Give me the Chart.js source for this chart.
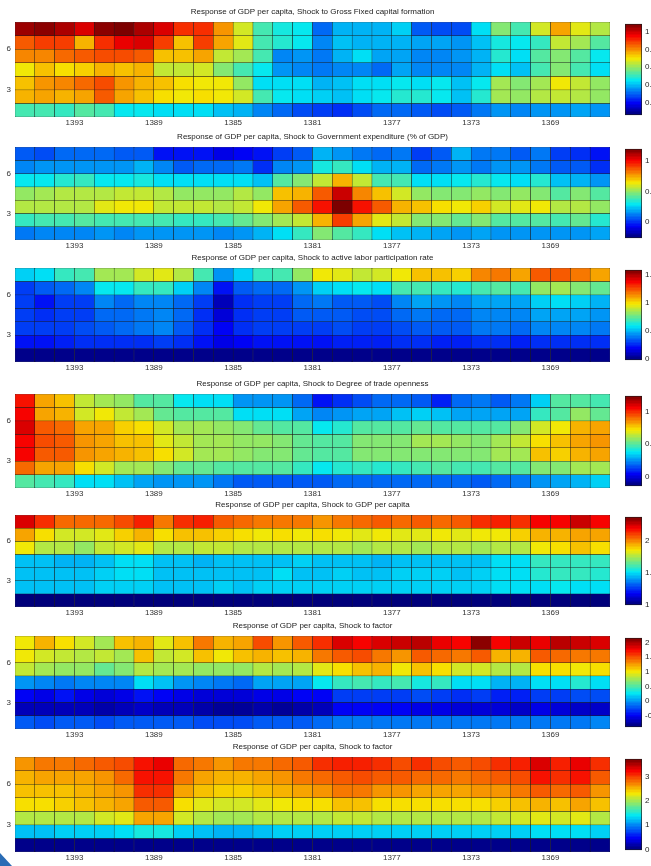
<!DOCTYPE html>
<html>
<head>
<meta charset="utf-8">
<title>Response of GDP per capita</title>
<script src="https://cdn.jsdelivr.net/npm/chart.js@4.4.1/dist/chart.umd.min.js"></script>
<style>
    html, body { margin: 0; padding: 0; background: #fff; }
    #figura { position: relative; width: 651px; height: 866px; overflow: hidden; }
    #figura canvas { position: absolute; }
    .canto { position: absolute; left: 0; top: 853px; width: 0; height: 0;
             border-left: 12px solid #2a6cb5; border-top: 13px solid transparent; }
</style>
</head>
<body>
<div id="figura"><div class="canto"></div></div>
<script>
// cells: one column per year (left edge of the cell), rows = horizon 7 (top) .. 1 (bottom)
const years = [1396, 1395, 1394, 1393, 1392, 1391, 1390, 1389, 1388, 1387, 1386, 1385, 1384, 1383, 1382,
               1381, 1380, 1379, 1378, 1377, 1376, 1375, 1374, 1373, 1372, 1371, 1370, 1369, 1368, 1367];
const horizons = [7, 6, 5, 4, 3, 2, 1];
const yearTicks = [1393, 1389, 1385, 1381, 1377, 1373, 1369];
const horizonTicks = [3, 6];

const titles = [
    'Response of GDP per capita, Shock to Gross Fixed capital formation',
    'Response of GDP per capita, Shock to Government expenditure (% of GDP)',
    'Response of GDP per capita, Shock to active labor participation rate',
    'Response of GDP per capita, Shock to Degree of trade openness',
    'Response of GDP per capita, Shock to GDP per capita',
    'Response of GDP per capita, Shock to factor',
    'Response of GDP per capita, Shock to factor'
];

// Shock to Gross Fixed capital formation
const gfcf = [
    [1.06, 1.07, 1.04, 0.99, 1.07, 1.09, 1.04, 0.99, 0.91, 0.91, 0.80, 0.66, 0.52, 0.47, 0.45, 0.31, 0.39, 0.39, 0.39, 0.42, 0.29, 0.27, 0.27, 0.43, 0.58, 0.52, 0.66, 0.78, 0.68, 0.64],
    [0.86, 0.90, 0.90, 0.76, 0.91, 0.97, 0.99, 0.90, 0.75, 0.90, 0.78, 0.68, 0.51, 0.49, 0.45, 0.33, 0.40, 0.38, 0.38, 0.38, 0.37, 0.37, 0.35, 0.41, 0.47, 0.45, 0.50, 0.65, 0.61, 0.54],
    [0.82, 0.82, 0.84, 0.86, 0.88, 0.88, 0.86, 0.74, 0.74, 0.78, 0.65, 0.61, 0.51, 0.34, 0.36, 0.32, 0.39, 0.43, 0.37, 0.37, 0.33, 0.34, 0.36, 0.39, 0.49, 0.44, 0.54, 0.58, 0.54, 0.46],
    [0.70, 0.74, 0.72, 0.73, 0.77, 0.75, 0.76, 0.65, 0.65, 0.67, 0.59, 0.51, 0.45, 0.36, 0.34, 0.32, 0.34, 0.33, 0.31, 0.37, 0.34, 0.33, 0.33, 0.39, 0.44, 0.40, 0.51, 0.58, 0.51, 0.43],
    [0.74, 0.79, 0.81, 0.85, 0.88, 0.79, 0.76, 0.74, 0.71, 0.70, 0.69, 0.60, 0.43, 0.44, 0.43, 0.39, 0.40, 0.43, 0.44, 0.45, 0.44, 0.45, 0.41, 0.46, 0.62, 0.58, 0.62, 0.70, 0.65, 0.60],
    [0.76, 0.78, 0.76, 0.78, 0.86, 0.78, 0.75, 0.71, 0.70, 0.71, 0.70, 0.67, 0.52, 0.45, 0.43, 0.42, 0.41, 0.44, 0.45, 0.49, 0.49, 0.46, 0.41, 0.49, 0.61, 0.60, 0.64, 0.65, 0.64, 0.60],
    [0.51, 0.51, 0.50, 0.53, 0.51, 0.46, 0.45, 0.44, 0.44, 0.44, 0.41, 0.39, 0.33, 0.30, 0.28, 0.26, 0.24, 0.27, 0.30, 0.30, 0.29, 0.27, 0.29, 0.32, 0.36, 0.34, 0.36, 0.36, 0.37, 0.36]
];

// Shock to Government expenditure (% of GDP)
const govExp = [
    [0.05, 0.04, 0.07, 0.08, 0.07, 0.05, 0.05, -0.06, -0.05, -0.06, -0.11, -0.08, -0.06, 0.02, 0.05, 0.19, 0.16, 0.11, 0.08, 0.10, 0.02, 0.05, 0.19, 0.11, 0.11, 0.05, 0.11, 0.01, -0.02, -0.05],
    [0.13, 0.14, 0.14, 0.16, 0.16, 0.16, 0.20, 0.13, 0.05, 0.08, 0.07, 0.10, -0.02, 0.13, 0.14, 0.32, 0.35, 0.27, 0.19, 0.19, 0.07, 0.10, 0.14, 0.11, 0.16, 0.14, 0.11, 0.05, 0.05, -0.02],
    [0.30, 0.30, 0.33, 0.36, 0.30, 0.30, 0.32, 0.27, 0.27, 0.27, 0.27, 0.26, 0.23, 0.41, 0.47, 0.58, 0.73, 0.58, 0.39, 0.38, 0.26, 0.26, 0.30, 0.33, 0.30, 0.26, 0.33, 0.22, 0.20, 0.14],
    [0.49, 0.52, 0.55, 0.54, 0.55, 0.57, 0.58, 0.54, 0.51, 0.51, 0.51, 0.54, 0.49, 0.70, 0.74, 0.88, 1.08, 0.80, 0.70, 0.60, 0.49, 0.48, 0.48, 0.49, 0.48, 0.49, 0.48, 0.41, 0.47, 0.41],
    [0.54, 0.54, 0.55, 0.54, 0.61, 0.63, 0.64, 0.57, 0.57, 0.57, 0.55, 0.57, 0.64, 0.76, 0.88, 1.00, 1.20, 1.00, 0.88, 0.74, 0.70, 0.66, 0.64, 0.69, 0.60, 0.61, 0.64, 0.55, 0.54, 0.51],
    [0.36, 0.38, 0.39, 0.41, 0.39, 0.39, 0.39, 0.38, 0.36, 0.36, 0.38, 0.44, 0.47, 0.52, 0.58, 0.74, 0.91, 0.76, 0.61, 0.57, 0.47, 0.47, 0.44, 0.47, 0.41, 0.41, 0.41, 0.39, 0.44, 0.33],
    [0.11, 0.13, 0.13, 0.13, 0.14, 0.13, 0.14, 0.16, 0.14, 0.14, 0.13, 0.16, 0.20, 0.26, 0.36, 0.47, 0.41, 0.36, 0.26, 0.23, 0.19, 0.17, 0.16, 0.17, 0.16, 0.14, 0.16, 0.16, 0.16, 0.17]
];

// Shock to active labor participation rate
const labor = [
    [0.54, 0.57, 0.67, 0.68, 0.84, 0.84, 0.93, 0.96, 0.86, 0.70, 0.44, 0.54, 0.67, 0.70, 0.81, 0.97, 0.94, 0.89, 0.93, 0.97, 1.06, 1.04, 1.02, 1.15, 1.17, 1.10, 1.23, 1.23, 1.17, 1.09],
    [0.29, 0.33, 0.36, 0.42, 0.59, 0.59, 0.67, 0.67, 0.54, 0.42, 0.21, 0.33, 0.36, 0.36, 0.44, 0.54, 0.57, 0.59, 0.57, 0.68, 0.68, 0.67, 0.63, 0.70, 0.72, 0.68, 0.81, 0.84, 0.78, 0.75],
    [0.28, 0.21, 0.28, 0.29, 0.41, 0.36, 0.42, 0.42, 0.36, 0.28, 0.07, 0.25, 0.29, 0.28, 0.36, 0.39, 0.33, 0.33, 0.31, 0.42, 0.46, 0.44, 0.42, 0.47, 0.47, 0.46, 0.54, 0.57, 0.54, 0.49],
    [0.28, 0.25, 0.28, 0.29, 0.36, 0.36, 0.39, 0.42, 0.36, 0.25, 0.12, 0.25, 0.29, 0.28, 0.33, 0.33, 0.33, 0.31, 0.31, 0.36, 0.39, 0.36, 0.36, 0.42, 0.42, 0.42, 0.46, 0.47, 0.47, 0.44],
    [0.29, 0.28, 0.29, 0.31, 0.34, 0.36, 0.38, 0.41, 0.33, 0.25, 0.18, 0.25, 0.28, 0.28, 0.28, 0.29, 0.31, 0.29, 0.29, 0.31, 0.34, 0.33, 0.33, 0.38, 0.38, 0.36, 0.41, 0.42, 0.41, 0.39],
    [0.21, 0.20, 0.23, 0.25, 0.25, 0.25, 0.26, 0.28, 0.25, 0.20, 0.15, 0.18, 0.21, 0.21, 0.21, 0.21, 0.23, 0.23, 0.23, 0.25, 0.25, 0.23, 0.23, 0.25, 0.25, 0.23, 0.25, 0.26, 0.26, 0.25],
    [0.00, 0.00, 0.00, 0.00, 0.00, 0.00, 0.00, 0.00, 0.00, 0.00, 0.00, 0.00, 0.00, 0.00, 0.00, 0.00, 0.00, 0.00, 0.00, 0.00, 0.00, 0.00, 0.00, 0.00, 0.00, 0.00, 0.00, 0.00, 0.00, 0.00]
];

// Shock to Degree of trade openness
const trade = [
    [1.05, 0.81, 0.77, 0.64, 0.61, 0.57, 0.49, 0.48, 0.39, 0.36, 0.36, 0.24, 0.25, 0.24, 0.18, 0.04, 0.09, 0.13, 0.17, 0.18, 0.16, 0.06, 0.18, 0.20, 0.16, 0.21, 0.34, 0.48, 0.48, 0.46],
    [1.06, 0.81, 0.80, 0.67, 0.71, 0.64, 0.59, 0.52, 0.49, 0.48, 0.48, 0.36, 0.36, 0.35, 0.28, 0.23, 0.25, 0.28, 0.27, 0.31, 0.34, 0.31, 0.27, 0.27, 0.28, 0.27, 0.45, 0.49, 0.57, 0.52],
    [1.11, 0.93, 0.92, 0.82, 0.82, 0.75, 0.73, 0.67, 0.61, 0.59, 0.57, 0.55, 0.52, 0.49, 0.49, 0.38, 0.43, 0.48, 0.48, 0.48, 0.52, 0.49, 0.49, 0.48, 0.48, 0.55, 0.66, 0.71, 0.80, 0.82],
    [1.07, 0.96, 0.93, 0.85, 0.82, 0.78, 0.77, 0.68, 0.64, 0.60, 0.60, 0.57, 0.57, 0.56, 0.52, 0.48, 0.49, 0.55, 0.56, 0.56, 0.60, 0.59, 0.57, 0.56, 0.61, 0.64, 0.73, 0.77, 0.82, 0.85],
    [1.07, 0.93, 0.93, 0.85, 0.81, 0.80, 0.78, 0.73, 0.66, 0.61, 0.60, 0.57, 0.56, 0.56, 0.52, 0.49, 0.49, 0.55, 0.55, 0.55, 0.56, 0.56, 0.56, 0.55, 0.59, 0.61, 0.77, 0.75, 0.80, 0.82],
    [0.91, 0.82, 0.81, 0.73, 0.66, 0.60, 0.59, 0.56, 0.52, 0.52, 0.49, 0.49, 0.48, 0.48, 0.45, 0.39, 0.42, 0.45, 0.42, 0.45, 0.46, 0.48, 0.46, 0.46, 0.48, 0.48, 0.55, 0.56, 0.61, 0.61],
    [0.50, 0.46, 0.45, 0.36, 0.36, 0.32, 0.28, 0.25, 0.25, 0.24, 0.21, 0.16, 0.16, 0.16, 0.16, 0.16, 0.17, 0.18, 0.18, 0.18, 0.18, 0.17, 0.18, 0.16, 0.17, 0.20, 0.24, 0.27, 0.29, 0.34]
];

// Shock to GDP per capita
const gdp = [
    [2.23, 2.12, 2.04, 2.04, 2.04, 2.09, 2.14, 2.03, 2.12, 2.14, 2.07, 2.04, 2.03, 2.01, 2.01, 1.98, 2.01, 2.04, 2.07, 2.04, 2.07, 2.04, 2.07, 2.12, 2.14, 2.12, 2.19, 2.19, 2.27, 2.19],
    [1.96, 1.86, 1.80, 1.80, 1.83, 1.89, 1.94, 1.87, 1.91, 1.91, 1.89, 1.87, 1.85, 1.87, 1.85, 1.87, 1.85, 1.83, 1.85, 1.83, 1.83, 1.85, 1.83, 1.85, 1.85, 1.89, 1.94, 1.94, 1.96, 1.96],
    [1.85, 1.75, 1.76, 1.72, 1.78, 1.79, 1.82, 1.76, 1.75, 1.78, 1.78, 1.76, 1.75, 1.75, 1.75, 1.76, 1.75, 1.74, 1.75, 1.75, 1.74, 1.75, 1.75, 1.74, 1.75, 1.76, 1.85, 1.87, 1.90, 1.87],
    [1.45, 1.45, 1.43, 1.42, 1.46, 1.50, 1.50, 1.46, 1.45, 1.43, 1.45, 1.45, 1.45, 1.46, 1.47, 1.46, 1.45, 1.45, 1.42, 1.45, 1.46, 1.46, 1.46, 1.46, 1.49, 1.49, 1.58, 1.58, 1.58, 1.58],
    [1.46, 1.45, 1.45, 1.45, 1.47, 1.49, 1.49, 1.46, 1.45, 1.45, 1.46, 1.45, 1.46, 1.49, 1.46, 1.46, 1.47, 1.46, 1.46, 1.47, 1.47, 1.47, 1.46, 1.47, 1.49, 1.49, 1.56, 1.58, 1.58, 1.56],
    [1.45, 1.46, 1.46, 1.46, 1.47, 1.47, 1.47, 1.46, 1.46, 1.46, 1.47, 1.46, 1.47, 1.47, 1.47, 1.47, 1.47, 1.47, 1.47, 1.47, 1.47, 1.47, 1.47, 1.47, 1.49, 1.49, 1.49, 1.51, 1.49, 1.49],
    [1.00, 1.00, 1.00, 1.00, 1.00, 1.00, 1.00, 1.00, 1.00, 1.00, 1.00, 1.00, 1.00, 1.00, 1.00, 1.00, 1.00, 1.00, 1.00, 1.00, 1.00, 1.00, 1.00, 1.00, 1.00, 1.00, 1.00, 1.00, 1.00, 1.00]
];

// Shock to factor (first)
const factorA = [
    [1.00, 1.21, 1.06, 0.91, 0.76, 1.12, 1.21, 0.94, 1.12, 1.37, 1.21, 1.25, 1.55, 1.31, 1.49, 1.64, 1.86, 1.79, 1.86, 1.92, 1.98, 1.82, 1.79, 2.10, 1.76, 1.92, 1.82, 1.95, 1.92, 1.86],
    [1.00, 0.88, 0.85, 0.82, 0.85, 0.76, 1.12, 0.85, 0.88, 1.15, 1.00, 1.12, 1.21, 1.15, 1.18, 1.37, 1.49, 1.55, 1.37, 1.31, 1.49, 1.43, 1.37, 1.49, 1.21, 1.21, 1.49, 1.43, 1.37, 1.40],
    [0.85, 0.76, 0.73, 0.73, 0.57, 0.67, 0.82, 0.76, 0.76, 0.73, 0.73, 0.70, 0.82, 0.76, 0.79, 0.97, 1.03, 1.12, 1.18, 1.00, 1.12, 1.03, 0.91, 0.88, 0.82, 0.82, 1.03, 1.06, 1.00, 1.03],
    [-0.04, -0.07, -0.10, -0.07, -0.07, -0.07, 0.24, 0.12, 0.00, -0.07, -0.10, -0.16, 0.03, 0.03, 0.03, 0.27, 0.42, 0.48, 0.42, 0.48, 0.30, 0.42, 0.21, 0.21, 0.09, 0.09, 0.21, 0.21, 0.36, 0.21],
    [-0.52, -0.55, -0.46, -0.55, -0.59, -0.55, -0.46, -0.52, -0.55, -0.62, -0.62, -0.59, -0.55, -0.55, -0.52, -0.49, -0.31, -0.31, -0.31, -0.31, -0.28, -0.31, -0.37, -0.31, -0.43, -0.40, -0.31, -0.31, -0.28, -0.25],
    [-0.71, -0.68, -0.68, -0.71, -0.74, -0.71, -0.65, -0.68, -0.71, -0.74, -0.77, -0.77, -0.74, -0.80, -0.74, -0.68, -0.52, -0.52, -0.52, -0.49, -0.55, -0.55, -0.62, -0.62, -0.62, -0.65, -0.55, -0.62, -0.65, -0.65],
    [-0.22, -0.25, -0.22, -0.22, -0.25, -0.22, -0.19, -0.22, -0.22, -0.25, -0.25, -0.25, -0.22, -0.22, -0.22, -0.16, -0.10, -0.10, -0.10, -0.10, -0.10, -0.10, -0.13, -0.13, -0.13, -0.13, -0.10, -0.10, -0.10, -0.07]
];

// Shock to factor (second)
const factorB = [
    [2.69, 2.77, 2.77, 2.84, 2.92, 2.99, 3.22, 3.30, 2.84, 2.77, 2.69, 2.77, 2.77, 2.84, 2.92, 3.07, 3.15, 3.15, 3.07, 2.99, 3.07, 2.99, 2.92, 2.99, 3.07, 3.15, 3.37, 3.15, 3.30, 3.07],
    [2.54, 2.62, 2.62, 2.62, 2.69, 2.84, 3.22, 3.22, 2.77, 2.62, 2.54, 2.54, 2.62, 2.69, 2.77, 2.84, 2.92, 2.99, 2.92, 2.92, 2.84, 2.84, 2.77, 2.84, 2.92, 2.99, 3.22, 3.07, 3.22, 2.92],
    [2.46, 2.50, 2.50, 2.54, 2.62, 2.69, 3.07, 3.07, 2.62, 2.50, 2.43, 2.43, 2.46, 2.54, 2.62, 2.69, 2.77, 2.77, 2.69, 2.69, 2.62, 2.62, 2.62, 2.69, 2.69, 2.77, 2.92, 2.84, 2.92, 2.69],
    [2.39, 2.39, 2.43, 2.46, 2.54, 2.62, 2.92, 2.92, 2.39, 2.24, 2.16, 2.16, 2.24, 2.31, 2.39, 2.39, 2.46, 2.46, 2.39, 2.39, 2.35, 2.39, 2.35, 2.39, 2.43, 2.46, 2.54, 2.46, 2.62, 2.46],
    [2.09, 2.05, 2.09, 2.09, 2.16, 2.24, 2.62, 2.62, 2.16, 2.05, 2.01, 2.01, 2.05, 2.09, 2.09, 2.09, 2.12, 2.12, 2.09, 2.09, 2.05, 2.09, 2.09, 2.09, 2.12, 2.16, 2.24, 2.16, 2.24, 2.09],
    [1.22, 1.22, 1.26, 1.26, 1.29, 1.33, 1.48, 1.48, 1.26, 1.22, 1.18, 1.18, 1.22, 1.26, 1.26, 1.26, 1.29, 1.29, 1.26, 1.26, 1.26, 1.26, 1.26, 1.29, 1.29, 1.29, 1.37, 1.33, 1.37, 1.29],
    [0.00, 0.00, 0.00, 0.00, 0.00, 0.00, 0.00, 0.00, 0.00, 0.00, 0.00, 0.00, 0.00, 0.00, 0.00, 0.00, 0.00, 0.00, 0.00, 0.00, 0.00, 0.00, 0.00, 0.00, 0.00, 0.00, 0.00, 0.00, 0.00, 0.00]
];

// colour limits and colorbar ticks of each panel
const colorLimits = [[0.06, 1.09], [-0.27, 1.2], [-0.03, 1.59], [-0.15, 1.24], [0.99, 2.37], [-0.89, 2.16], [-0.03, 3.75]];
const colorTicks = [[0.2, 0.4, 0.6, 0.8, 1], [0, 0.5, 1], [0, 0.5, 1, 1.5], [0, 0.5, 1], [1, 1.5, 2], [-0.5, 0, 0.5, 1, 1.5, 2], [0, 1, 2, 3]];

const panelData = [gfcf, govExp, labor, trade, gdp, factorA, factorB];

// top and bottom of each plot area in the page (px)
const plotBoxes = [[22, 117], [147, 240], [268, 362], [394, 488], [515, 607], [636, 729], [757, 852]];

const fonte = "'Liberation Sans', Arial, Helvetica, sans-serif";
Chart.defaults.font.family = fonte;
Chart.defaults.font.size = 8;
Chart.defaults.color = '#222';
Chart.defaults.animation = false;

const figura = document.getElementById('figura');

// MATLAB jet colormap, 64 levels (channels toned down a little, like the scanned figure)
function jet(t) {
    t = Math.min(1, Math.max(0, t));
    t = Math.round(t * 63) / 63;
    const c = (a, k) => Math.round(255 * k * Math.min(1, Math.max(0, a)));
    const r = c(1.5 - Math.abs(4 * t - 3), 0.97);
    const g = c(1.5 - Math.abs(4 * t - 2), 0.91);
    const b = c(1.5 - Math.abs(4 * t - 1), 0.96);
    return `rgb(${r}, ${g}, ${b})`;
}

function novoCanvas(left, top, width, height) {
    const canvas = document.createElement('canvas');
    canvas.width = width;
    canvas.height = height;
    canvas.style.left = left + 'px';
    canvas.style.top = top + 'px';
    figura.appendChild(canvas);
    return canvas;
}

function desenharMapa(i) {
    const [top, bottom] = plotBoxes[i];
    const [cmin, cmax] = colorLimits[i];
    const canvas = novoCanvas(0, top - 18, 612, bottom - top + 18 + 14);

    const datasets = panelData[i].map((row, r) => ({
        data: row.map((v, j) => ({ x: years[j] - 0.5, y: [horizons[r], horizons[r] + 1] })),
        backgroundColor: row.map(v => jet((v - cmin) / (cmax - cmin))),
        borderColor: '#1c1c1c',
        borderWidth: 0.5,
        borderSkipped: false,
        grouped: false,
        barPercentage: 1,
        categoryPercentage: 1
    }));

    new Chart(canvas, {
        type: 'bar',
        data: { datasets },
        options: {
            responsive: false,
            layout: { padding: { left: 0, right: 2, top: 0, bottom: 0 } },
            plugins: {
                legend: { display: false },
                tooltip: { enabled: false },
                title: {
                    display: true,
                    text: titles[i],
                    fullSize: false,
                    color: '#1a1a1a',
                    font: { size: 8, weight: 'normal' },
                    padding: { top: 3, bottom: 5.4 }
                }
            },
            scales: {
                x: {
                    type: 'linear',
                    reverse: true,
                    min: 1366,
                    max: 1396,
                    offset: false,
                    grid: { display: false, drawTicks: false, offset: false },
                    border: { display: false },
                    ticks: { color: '#333', padding: 1, maxRotation: 0, autoSkip: false, callback: v => String(v) },
                    afterBuildTicks: axis => { axis.ticks = yearTicks.map(v => ({ value: v })); },
                    afterFit: axis => { axis.height = 14; }
                },
                y: {
                    type: 'linear',
                    min: 1,
                    max: 8,
                    grid: { display: false, drawTicks: false },
                    border: { display: false },
                    ticks: { color: '#333', padding: 4, callback: v => String(v) },
                    afterBuildTicks: axis => { axis.ticks = horizonTicks.map(v => ({ value: v })); },
                    afterFit: axis => { axis.width = 15; }
                }
            }
        }
    });
}

function desenharBarraCores(i) {
    const [top, bottom] = plotBoxes[i];
    const [cmin, cmax] = colorLimits[i];
    const canvas = novoCanvas(620, top - 6, 31, bottom - top + 12);

    new Chart(canvas, {
        type: 'bar',
        data: {
            labels: [''],
            datasets: [{
                data: [[cmin, cmax]],
                backgroundColor: ctx => {
                    const area = ctx.chart.chartArea;
                    if (!area) return '#888';
                    const g = ctx.chart.ctx.createLinearGradient(0, area.bottom, 0, area.top);
                    for (let k = 0; k < 64; k++) {
                        g.addColorStop(k / 64, jet(k / 63));
                        g.addColorStop((k + 1) / 64, jet(k / 63));
                    }
                    return g;
                },
                borderColor: '#1c1c1c',
                borderWidth: 1,
                borderSkipped: false,
                barPercentage: 1,
                categoryPercentage: 1
            }]
        },
        options: {
            responsive: false,
            layout: { padding: { left: 5, right: 0, top: 6, bottom: 6 } },
            plugins: { legend: { display: false }, tooltip: { enabled: false } },
            scales: {
                x: { display: false },
                y: {
                    position: 'right',
                    min: cmin,
                    max: cmax,
                    grid: { display: false, drawTicks: false },
                    border: { display: false },
                    ticks: { color: '#222', padding: 3, callback: v => String(v) },
                    afterBuildTicks: axis => { axis.ticks = colorTicks[i].map(v => ({ value: v })); },
                    afterFit: axis => { axis.width = 9; }
                }
            }
        }
    });
}

panelData.forEach((_, i) => {
    desenharMapa(i);
    desenharBarraCores(i);
});
</script>
</body>
</html>
